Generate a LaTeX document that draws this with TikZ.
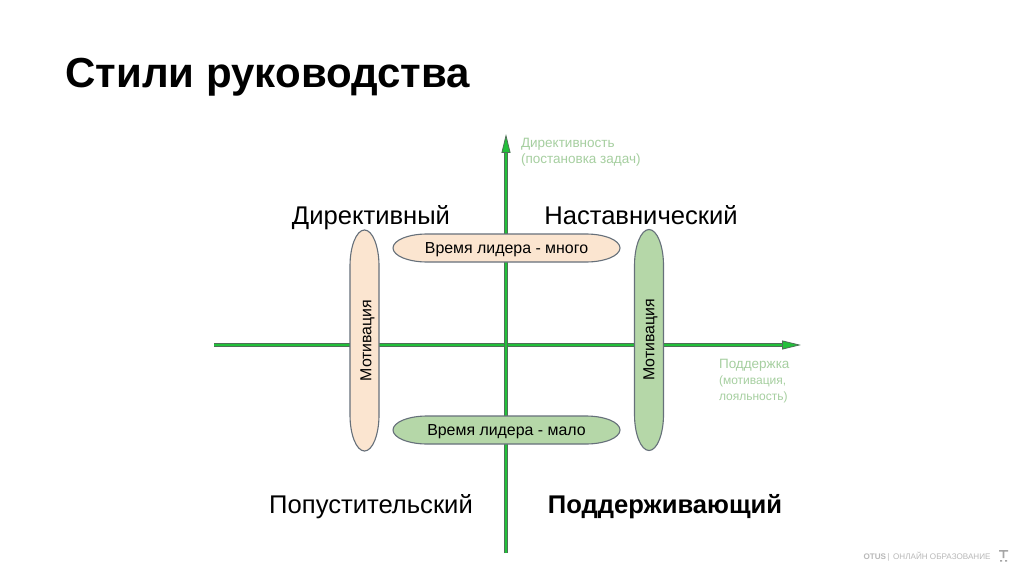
\documentclass[tikz,border=0pt]{standalone}
\usepackage{fontspec}
\setmainfont{Liberation Sans}
\usetikzlibrary{arrows.meta}
\definecolor{AXISGREEN}{HTML}{22C03A}
\definecolor{AXISEDGE}{HTML}{4F7058}
\definecolor{PEACH}{HTML}{FBE5D0}
\definecolor{SAGE}{HTML}{B5D7A8}
\definecolor{PILLEDGE}{HTML}{66707A}
\definecolor{PALEGREEN}{HTML}{A6CFA0}
\tikzset{
  axisline/.style={draw=AXISEDGE, double=AXISGREEN, double distance=2.6pt, line width=0.8pt,
    -{Stealth[length=19pt, width=9pt, fill=AXISGREEN, inset=0pt]}},
  pill/.style={draw=PILLEDGE, line width=1.1pt},
  quadrant/.style={font=\fontsize{25.6}{25.6}\selectfont, black, anchor=base},
  pilltext/.style={font=\fontsize{15.9}{15.9}\selectfont, black},
  axislabel/.style={font=\fontsize{13.5}{15.8}\selectfont, PALEGREEN, align=left, anchor=west},
}
\begin{document}
\begin{tikzpicture}[x=1pt, y=1pt]
\newcommand\HPILL[2]{
\draw[pill, fill=#1](#2)++(-79.5,14)--++(159,0)
arc[start angle=90, end angle=-90, x radius=34, y radius=14]--++(-159,0)
arc[start angle=270, end angle=90, x radius=34, y radius=14]--cycle;}
\newcommand\VPILL[2]{
\draw[pill, fill=#1](#2)++(-14.5,74.5)--++(0,-149)
arc[start angle=180, end angle=360, x radius=14.5, y radius=36]--++(0,149)
arc[start angle=0, end angle=180, x radius=14.5, y radius=36]--cycle;}

\useasboundingbox[fill=white](0,0) rectangle (1024,574);

%% title
\node[anchor=west, font=\fontsize{42}{42}\selectfont\bfseries, black] (title) at (62,497) {Стили руководства};

%% axes
\coordinate (west) at (214,229);
\coordinate (east) at (801,229);
\coordinate (south) at (506,21);
\coordinate (north) at (506,440);
\draw[axisline] (west) -- (east);
\draw[axisline] (south) -- (north);

\node[axislabel] (directlabel) at (517.5,422) {Директивность\\(постановка задач)};
\node[axislabel, font=\fontsize{12}{16}\selectfont] (supportlabel) at (715.5,193)
{{\fontsize{13.5}{16}\selectfont Поддержка}\\(мотивация,\\лояльность)};

%% pills
\coordinate (timemuch) at (506.5,326);
\coordinate (timelittle) at (506.5,144);
\coordinate (motivleft) at (364.5,233.5);
\coordinate (motivright) at (649,234);
\HPILL{PEACH}{timemuch}
\HPILL{SAGE}{timelittle}
\VPILL{PEACH}{motivleft}
\VPILL{SAGE}{motivright}
\node[pilltext] (timemuchtext) at (506.5,324.5) {Время лидера - много};
\node[pilltext] (timelittletext) at (506.5,142.5) {Время лидера - мало};
\node[pilltext, rotate=90] (motivlefttext) at (367.5,233.5) {Мотивация};
\node[pilltext, rotate=90] (motivrighttext) at (650.5,234) {Мотивация};

%% quadrants
\node[quadrant] (directive) at (371,350) {Директивный};
\node[quadrant] (mentor) at (641,350) {Наставнический};
\node[quadrant] (laissez) at (371,61) {Попустительский};
\node[quadrant, font=\fontsize{25.6}{25.6}\selectfont\bfseries] (supporting) at (665,61) {Поддерживающий};

%% footer
\node[anchor=east, font=\fontsize{8.1}{8.1}\selectfont, black!28] (footer) at (994,17) {\textbf{OTUS}\,\textbar\, ОНЛАЙН ОБРАЗОВАНИЕ};
\fill[black!35] (999,24) rectangle (1008,22.5) (1002.7,22.5) rectangle (1004.3,16)
(1000,14) rectangle (1002,12.5) (1005,14) rectangle (1007,12.5);
\end{tikzpicture}
\end{document}
